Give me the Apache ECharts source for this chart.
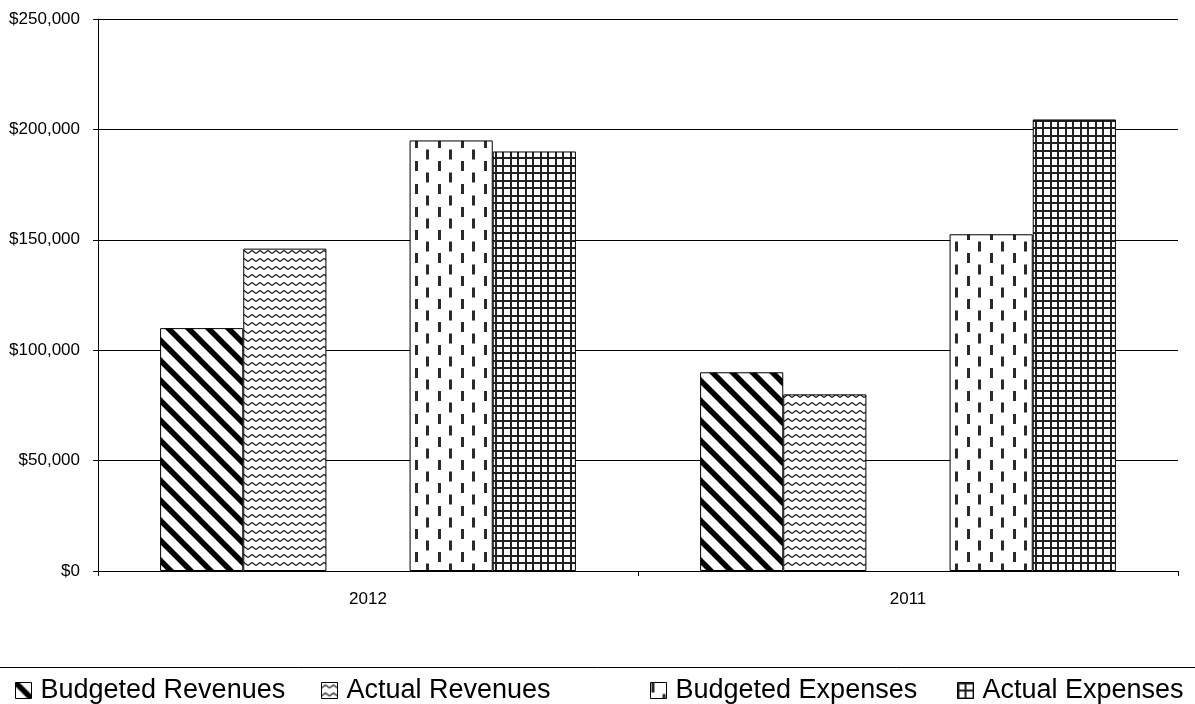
<!DOCTYPE html>
<html>
<head>
<meta charset="utf-8">
<script src="https://cdn.jsdelivr.net/npm/echarts@6/dist/echarts.min.js"></script>
<style>
html,body{margin:0;padding:0;background:#fff;}
#chart{width:1195px;height:704px;}
</style>
</head>
<body>
<div id="chart"></div>
<script>
const categories = ['2012', '2011'];
const budgetedRevenues = [110000, 90000];
const actualRevenues = [146000, 80000];
const spacerValues = ['-', '-'];
const budgetedExpenses = [195000, 152500];
const actualExpenses = [190000, 204500];
const yTickValues = [0, 50000, 100000, 150000, 200000, 250000];

function makeTile(w, h, draw) {
  const c = document.createElement('canvas');
  c.width = w; c.height = h;
  const ctx = c.getContext('2d');
  ctx.fillStyle = '#fff';
  ctx.fillRect(0, 0, w, h);
  draw(ctx, w, h);
  return { image: c, repeat: 'repeat' };
}

const diagPattern = makeTile(20, 20, (ctx) => {
  ctx.strokeStyle = '#000';
  ctx.lineWidth = 5.5;
  ctx.beginPath();
  [-20, 0, 20].forEach(k => { ctx.moveTo(k - 4, -4); ctx.lineTo(k + 24, 24); });
  ctx.stroke();
});
const zigPattern = makeTile(8, 8, (ctx) => {
  ctx.strokeStyle = '#111';
  ctx.lineWidth = 1.1;
  ctx.beginPath();
  ctx.moveTo(0, 5.5); ctx.lineTo(4, 2.5); ctx.lineTo(8, 5.5);
  ctx.stroke();
});
const dashPattern = makeTile(23, 23, (ctx) => {
  ctx.fillStyle = '#2a2a2a';
  ctx.fillRect(1, 0, 3, 10);
  ctx.fillRect(12, 11.5, 3, 10);
});
const gridPattern = makeTile(15, 15, (ctx) => {
  ctx.fillStyle = '#222';
  ctx.fillRect(0, 0, 2, 15);
  ctx.fillRect(7, 0, 2, 15);
  ctx.fillRect(0, 0, 15, 2);
  ctx.fillRect(0, 7, 15, 2);
});

const chart = echarts.init(document.getElementById('chart'), null, { renderer: 'canvas' });

const fontFamily = 'Arial, "Liberation Sans", sans-serif';
function legendAt(name, left) {
  return {
    data: [name],
    left: left,
    top: 677,
    padding: 0,
    itemWidth: 16,
    itemHeight: 16,
    icon: 'rect',
    selectedMode: false,
    itemStyle: { borderColor: '#000', borderWidth: 1 },
    textStyle: { fontFamily: fontFamily, fontSize: 27, color: '#000', padding: [0, 0, 0, 4] }
  };
}

const barStyle = (pattern) => ({ color: pattern, borderColor: '#000', borderWidth: 1 });

chart.setOption({
  animation: false,
  backgroundColor: '#fff',
  grid: { left: 98, right: 17, top: 19, bottom: 133 },
  xAxis: {
    type: 'category',
    data: categories,
    axisLine: { lineStyle: { color: '#000', width: 1 } },
    axisTick: { show: true, length: 5, inside: false, lineStyle: { color: '#000' } },
    axisLabel: { fontFamily: fontFamily, fontSize: 17, color: '#000', margin: 20 }
  },
  yAxis: {
    type: 'value',
    min: yTickValues[0],
    max: yTickValues[yTickValues.length - 1],
    interval: yTickValues[1] - yTickValues[0],
    axisLine: { show: true, lineStyle: { color: '#000', width: 1 } },
    axisTick: { show: true, length: 5, inside: false, lineStyle: { color: '#000' } },
    splitLine: { show: true, lineStyle: { color: '#000', width: 1 } },
    axisLabel: {
      fontFamily: fontFamily, fontSize: 17, color: '#000', margin: 18,
      formatter: v => '$' + v.toLocaleString('en-US')
    }
  },
  legend: [
    legendAt('Budgeted Revenues', 15),
    legendAt('Actual Revenues', 321),
    legendAt('Budgeted Expenses', 650),
    legendAt('Actual Expenses', 957)
  ],
  graphic: [{
    type: 'line',
    shape: { x1: 0, y1: 667.5, x2: 1195, y2: 667.5 },
    style: { stroke: '#000', lineWidth: 1 },
    silent: true
  }],
  series: [
    { name: 'Budgeted Revenues', type: 'bar', data: budgetedRevenues, barGap: '0%', barCategoryGap: '23%', itemStyle: barStyle(diagPattern) },
    { name: 'Actual Revenues', type: 'bar', data: actualRevenues, barGap: '0%', barCategoryGap: '23%', itemStyle: barStyle(zigPattern) },
    { name: 'spacer', type: 'bar', data: spacerValues, barGap: '0%', barCategoryGap: '23%', itemStyle: { color: 'transparent' } },
    { name: 'Budgeted Expenses', type: 'bar', data: budgetedExpenses, barGap: '0%', barCategoryGap: '23%', itemStyle: barStyle(dashPattern) },
    { name: 'Actual Expenses', type: 'bar', data: actualExpenses, barGap: '0%', barCategoryGap: '23%', itemStyle: barStyle(gridPattern) }
  ]
});
</script>
</body>
</html>
